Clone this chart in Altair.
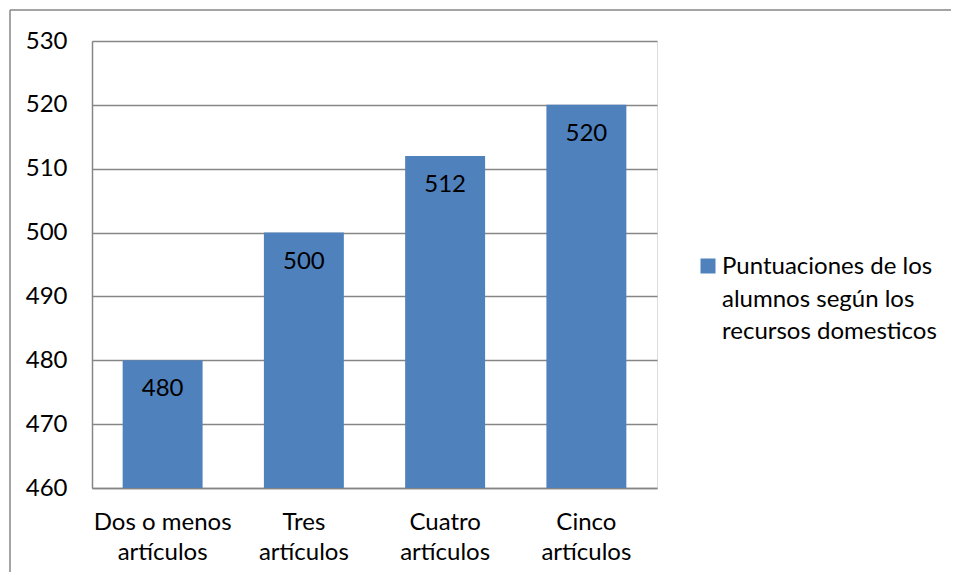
import altair as alt
import pandas as pd

categories = ["Dos o menos artículos", "Tres artículos", "Cuatro artículos", "Cinco artículos"]
values = [480, 500, 512, 520]
series_name = ["Puntuaciones de los", "alumnos según los", "recursos domesticos"]

BLUE = "#4F81BD"
GRID = "#868686"
FONT = "Lato"
FS = 24

df = pd.DataFrame({"cat": categories, "val": values})

base = alt.Chart(df)

bars = base.mark_bar(color=BLUE, clip=True).encode(
    x=alt.X("cat:N", sort=categories, title=None,
            scale=alt.Scale(paddingInner=0.434, paddingOuter=0.217),
            axis=alt.Axis(labelAngle=0, ticks=False, domain=True, domainColor=GRID,
                          domainWidth=1.5,
                          labelExpr="[substring(datum.label,0,lastindexof(datum.label,' ')), substring(datum.label,lastindexof(datum.label,' ')+1)]",
                          labelLineHeight=30, labelPadding=22, labelFontSize=FS,
                          labelFont=FONT, labelColor="black", labelBaseline="top")),
    y=alt.Y("val:Q", title=None,
            scale=alt.Scale(domain=[460, 530], nice=False, zero=False),
            axis=alt.Axis(values=[460, 470, 480, 490, 500, 510, 520, 530], ticks=False,
                          grid=True, gridColor=GRID, gridWidth=1.5, domain=True,
                          domainColor=GRID, domainWidth=1.5, labelPadding=25,
                          labelFontSize=FS, labelFont=FONT, labelColor="black")),
)

labels = base.mark_text(baseline="middle", dy=29, fontSize=FS, font=FONT, color="black").encode(
    x=alt.X("cat:N", sort=categories),
    y=alt.Y("val:Q"),
    text=alt.Text("val:Q"),
)

legend_df = pd.DataFrame({"name": ["\n".join(series_name)]})
leg_sq = alt.Chart(legend_df).mark_square(color=BLUE, size=225, opacity=1).encode(
    x=alt.value(616), y=alt.value(225)
)
leg_txt = alt.Chart(legend_df).mark_text(
    align="left", baseline="alphabetic", fontSize=FS, font=FONT, color="black",
    lineBreak="\n", lineHeight=32.5
).encode(x=alt.value(630), y=alt.value(233), text="name:N")

border_top = alt.Chart(legend_df).mark_rule(stroke=GRID, strokeWidth=1.5, clip=False).encode(
    x=alt.value(-82), x2=alt.value(1000), y=alt.value(-31)
)
border_left = alt.Chart(legend_df).mark_rule(stroke=GRID, strokeWidth=1.5, clip=False).encode(
    x=alt.value(-82), y=alt.value(-31), y2=alt.value(700)
)

chart = alt.layer(border_top, border_left, bars, labels, leg_sq, leg_txt).properties(
    width=565, height=447,
    autosize=alt.AutoSizeParams(type="none"),
    padding={"left": 84, "top": 33, "right": 294, "bottom": 84},
).configure_view(stroke=None).configure(background="white")

chart.save("out.html", embed_options={"renderer": "svg", "actions": False})
